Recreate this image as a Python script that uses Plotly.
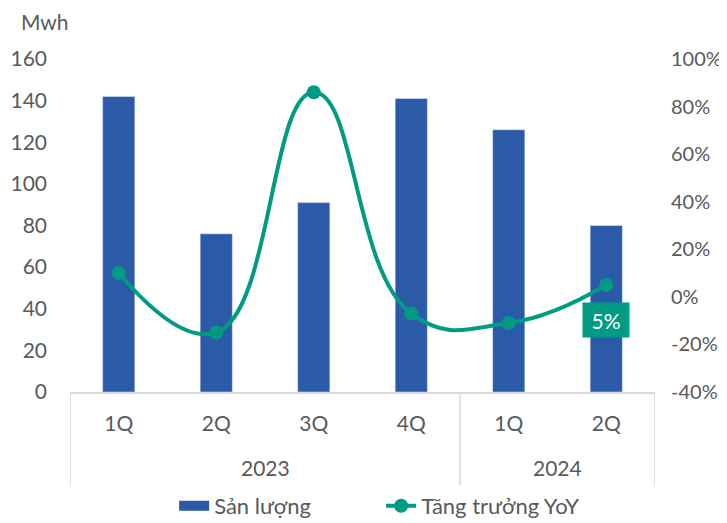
import plotly.graph_objects as go
from plotly.subplots import make_subplots

years = ["2023", "2023", "2023", "2023", "2024", "2024"]
quarters = ["1Q", "2Q", "3Q", "4Q", "1Q", "2Q"]
san_luong = [142, 76, 91, 141, 126, 80]
tang_truong = [10, -15, 86, -7, -11, 5]
pct_ticks = [-40, -20, 0, 20, 40, 60, 80, 100]

BLUE = "#2B5AA8"
GREEN = "#009B82"
GREY = "#595959"
LINE = "#D9D9D9"
FONT = "Lato"
FS = 21

idx = list(range(len(quarters)))

fig = make_subplots(specs=[[{"secondary_y": True}]])
fig.add_trace(go.Bar(x=idx, y=san_luong, name="Sản lượng", showlegend=False,
                     marker=dict(color=BLUE), width=0.33), secondary_y=False)
# legend stand-in for the bar series (wide rectangle swatch)
fig.add_trace(go.Scatter(x=[None], y=[None], name="Sản lượng", mode="lines",
                         line=dict(color=BLUE, width=14)), secondary_y=False)
fig.add_trace(go.Scatter(x=idx, y=tang_truong, name="Tăng trưởng YoY",
                         mode="lines+markers",
                         line=dict(color=GREEN, width=4, shape="spline", smoothing=1.3),
                         marker=dict(color=GREEN, size=14)), secondary_y=True)

# data label for last point
fig.add_annotation(x=idx[-1], xref="x", y=-9.7, yref="y2", text=f"{tang_truong[-1]}%",
                   showarrow=False, font=dict(color="white", size=FS, family=FONT),
                   bgcolor=GREEN, width=44, height=32, xanchor="center", yanchor="middle")
fig.add_annotation(x=-0.043, xref="paper", y=1.114, yref="paper", text="Mwh", showarrow=False,
                   font=dict(color=GREY, size=FS, family=FONT), xanchor="center", yanchor="middle")

# year group labels and dividers
groups = []
for i, y in enumerate(years):
    if not groups or groups[-1][0] != y:
        groups.append([y, i, i])
    else:
        groups[-1][2] = i
bounds = [groups[0][1] - 0.5] + [g[2] + 0.5 for g in groups]
for g in groups:
    fig.add_annotation(x=(g[1] + g[2]) / 2, xref="x", y=-0.228, yref="paper", text=g[0],
                       showarrow=False, font=dict(color=GREY, size=FS, family=FONT),
                       xanchor="center", yanchor="middle")
for b in bounds:
    fig.add_shape(type="line", x0=b, x1=b, xref="x", y0=0, y1=-0.279, yref="paper",
                  line=dict(color=LINE, width=1.5))

fig.update_layout(
    width=727, height=523, autosize=False, plot_bgcolor="white", paper_bgcolor="white",
    margin=dict(l=62, r=80, t=51, b=139, autoexpand=False),
    font=dict(family=FONT, size=FS, color=GREY),
    legend=dict(orientation="h", x=0.178, xanchor="left", y=-0.342, yanchor="middle",
                font=dict(size=22, color=GREY, family=FONT),
                entrywidth=162, entrywidthmode="pixels"),
    showlegend=True,
)
fig.update_xaxes(domain=[0, 1], range=[-0.5, len(idx) - 0.5], tickvals=idx, ticktext=quarters,
                 showline=True, linecolor=LINE, linewidth=1.5, showgrid=False, zeroline=False,
                 tickfont=dict(size=FS, color=GREY, family=FONT), ticks="",
                 ticklabelstandoff=12, automargin=False)
fig.update_yaxes(range=[0, 160], dtick=20, showgrid=False, zeroline=False, showline=False,
                 tickfont=dict(size=FS, color=GREY, family=FONT), ticklabelstandoff=22,
                 automargin=False, secondary_y=False)
fig.update_yaxes(range=[-40, 100], tickvals=pct_ticks, ticktext=[f"{v}%" for v in pct_ticks],
                 showgrid=False, zeroline=False,
                 showline=False, tickfont=dict(size=20, color=GREY, family=FONT),
                 ticklabelstandoff=15, automargin=False, secondary_y=True)

fig.write_html("out.html", config={"responsive": False})
